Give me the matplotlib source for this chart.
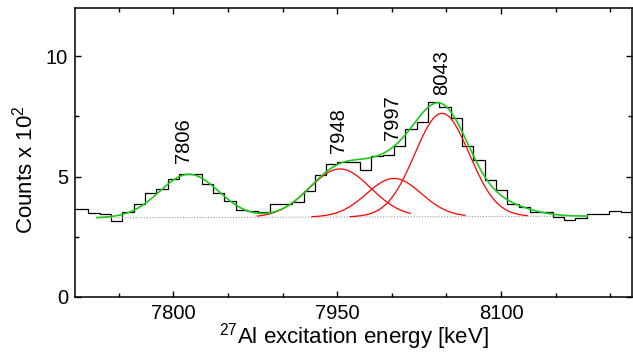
import numpy as np
import matplotlib
matplotlib.use('Agg')
import matplotlib.pyplot as plt
from matplotlib.ticker import MultipleLocator

plt.rcParams['font.family'] = ['Liberation Sans', 'DejaVu Sans']
plt.rcParams['mathtext.default'] = 'regular'

# histogram (counts x 10^2), uniform bins
bin_lo = 7711.8
bin_w = 10.37
counts = [3.64, 3.50, 3.43, 3.13, 3.52, 3.85, 4.32, 4.50, 4.89, 5.11,
          5.10, 4.70, 4.33, 4.00, 3.61, 3.58, 3.54, 3.85, 3.86, 3.96,
          4.40, 5.07, 5.53, 5.62, 5.62, 5.28, 5.86, 5.90, 6.28, 6.97,
          7.27, 8.10, 7.89, 7.43, 6.25, 5.67, 4.86, 4.45, 3.85, 3.75,
          3.54, 3.54, 3.33, 3.20, 3.29, 3.43, 3.43, 3.57, 3.52, 3.52]

# fit: linear background + gaussian peaks (last one only in the total)
bg_x = [7730, 8179]
bg_y = [3.28, 3.35]
peak_E = [7814.4, 7952.6, 8002.0, 8046.0, 8100.0]
peak_A = [1.80, 2.00, 1.60, 4.30, 0.46]
peak_s = [27.0, 28.0, 25.0, 25.0, 26.0]
# ranges over which single components are drawn (red)
comp_lo = [None, 7877, 7927, 7962, None]
comp_hi = [None, 8017, 8067, 8124, None]

labels = ['7806', '7948', '7997', '8043']
label_x = [7809, 7951, 8000.5, 8045.3]
label_y = [5.57, 5.99, 6.53, 8.40]


def bg(x):
    return np.interp(x, bg_x, bg_y)


def gauss(x, i):
    return peak_A[i] * np.exp(-(x - peak_E[i])**2 / (2 * peak_s[i]**2))


fig = plt.figure(figsize=(6.33, 3.53), dpi=100)
ax = fig.add_axes([0.1185, 0.1595, 0.88, 0.817])

edges = bin_lo + bin_w * np.arange(len(counts) + 1)
edges[0] = 7700
ax.stairs(counts, edges, baseline=None, color='black', lw=0.9)

# background
xb = np.linspace(bg_x[0], bg_x[1], 300)
ax.plot(xb, bg(xb), ls=(0, (1, 1.5)), color='#999999', lw=0.8)

# single components
for i in range(len(peak_E)):
    if comp_lo[i] is None:
        continue
    xc = np.linspace(comp_lo[i], comp_hi[i], 300)
    ax.plot(xc, bg(xc) + gauss(xc, i), color='#ff0000', lw=0.9)

# total fit
xt = np.linspace(bg_x[0], bg_x[1], 800)
tot = bg(xt) + sum(gauss(xt, i) for i in range(len(peak_E)))
ax.plot(xt, tot, color='#1ec81e', lw=1.2)

for t, x, y in zip(labels, label_x, label_y):
    ax.text(x, y, t, rotation=90, ha='center', va='bottom', fontsize=14.5)

ax.set_xlim(7710, 8220)
ax.set_ylim(0, 12)
ax.xaxis.set_major_locator(MultipleLocator(150))
ax.xaxis.set_minor_locator(MultipleLocator(50))
ax.set_yticks([0, 5, 10])
ax.yaxis.set_minor_locator(MultipleLocator(2.5))
ax.tick_params(which='both', direction='in', top=True, right=True,
               labelsize=14.5, width=1.0, pad=5)
ax.tick_params(which='major', length=4.5)
ax.tick_params(which='minor', length=3)
for s in ax.spines.values():
    s.set_linewidth(1.1)

ax.set_xlabel('$^{27}$Al excitation energy [keV]', fontsize=16, labelpad=-1)
ax.set_ylabel('Counts x 10$^{2}$', fontsize=16)
ax.yaxis.set_label_coords(-0.068, 0.44)

fig.savefig('out.png', dpi=100)
